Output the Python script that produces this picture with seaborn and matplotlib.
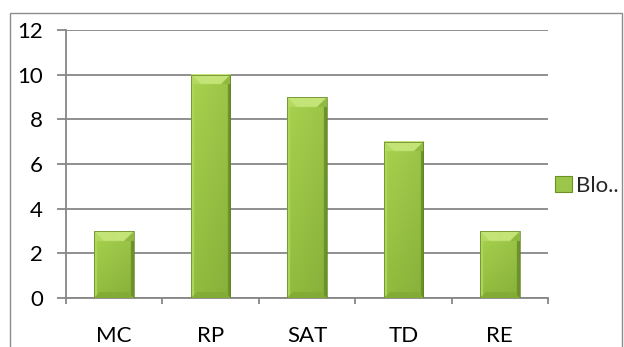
import numpy as np
import pandas as pd
import matplotlib
matplotlib.use("Agg")
import matplotlib.pyplot as plt
import seaborn as sns
from matplotlib.patches import Rectangle, Patch
from matplotlib.colors import to_rgb

# Chart data
categories = ["MC", "RP", "SAT", "TD", "RE"]
values = [3, 10, 9, 7, 3]
series_name = "Blo.."
y_ticks = [0, 2, 4, 6, 8, 10, 12]

W_PX, H_PX, DPI = 624, 347, 100
GRID = "#878787"
FONT_SIZE = 16

sns.set_theme(style="white")
plt.rcParams["font.family"] = ["Lato", "DejaVu Sans"]

fig = plt.figure(figsize=(W_PX / DPI, H_PX / DPI), dpi=DPI)
ax = fig.add_axes([66 / W_PX, 49 / H_PX, (548 - 66) / W_PX, (298 - 30) / H_PX])

df = pd.DataFrame({"category": categories, "value": values})
sns.barplot(data=df, x="category", y="value", color="#9cc64a", saturation=1,
            width=0.41, ax=ax, zorder=3)

ax.set_xlim(-0.5, len(categories) - 0.5)
ax.set_ylim(y_ticks[0], y_ticks[-1])
ax.set_yticks(y_ticks)
ax.set_xlabel("")
ax.set_ylabel("")

# horizontal gridlines + axis styling
ax.yaxis.grid(True, color=GRID, lw=1.3, zorder=0)
ax.xaxis.grid(False)
for s in ["top", "right"]:
    ax.spines[s].set_visible(False)
for s in ["left", "bottom"]:
    ax.spines[s].set_color(GRID)
    ax.spines[s].set_linewidth(1.3)
ax.tick_params(axis="y", direction="out", length=6.5, width=1.3, color=GRID,
               pad=10, labelsize=FONT_SIZE, labelcolor="black", left=True)
ax.set_xticks(np.arange(-0.5, len(categories)), minor=True)
ax.tick_params(axis="x", which="minor", direction="out", length=4, width=1.3,
               color=GRID, bottom=True)
ax.tick_params(axis="x", which="major", length=0, pad=20,
               labelsize=FONT_SIZE, labelcolor="black")


def shaded_bar(patch):
    """Paint a bevelled, gradient-filled image over a bar patch."""
    x0, y0 = patch.get_x(), patch.get_y()
    w, h = patch.get_width(), patch.get_height()
    p0 = ax.transData.transform((x0, y0))
    p1 = ax.transData.transform((x0 + w, y0 + h))
    s = 4
    wp = max(int(round((p1[0] - p0[0]) * s)), 1)
    hp = max(int(round((p1[1] - p0[1]) * s)), 1)
    xs = (np.arange(wp) + 0.5) / s
    ys = (np.arange(hp) + 0.5) / s  # measured from the top
    X, Y = np.meshgrid(xs, ys)
    wpx, hpx = wp / s, hp / s
    dl, dr = X, wpx - X
    dt, db = Y, hpx - Y
    v = Y / hpx
    u = X / wpx

    top_c = np.array(to_rgb("#a3cd4c"))
    bot_c = np.array(to_rgb("#8cb73c"))
    img = top_c[None, None, :] * (1 - v[..., None]) + bot_c[None, None, :] * v[..., None]
    img = img * (1.03 - 0.07 * u[..., None])

    bt, bs, bb = 10.0, 3.0, 6.0
    side = np.minimum(dl, dr)
    top_m = (dt < bt) & (dt <= side)
    left_m = (dl < bs) & (dl < dt) & (dl <= dr) & (dl < db)
    right_m = (dr < bs) & (dr < dt) & (dr < dl) & (dr < db)
    bot_m = (db < bb) & (db <= side) & ~top_m
    # left/right corner facets of the top bevel
    tl_m = (dt < bt) & (dl < bt) & (dl < dt)
    tr_m = (dt < bt) & (dr < bt) & (dr < dt)
    img[bot_m] = to_rgb("#82ac36")
    img[top_m] = to_rgb("#c4e477")
    img[tl_m] = to_rgb("#b4da60")
    img[tr_m] = to_rgb("#90ba40")
    img[left_m & ~tl_m] = to_rgb("#aed65a")
    img[right_m & ~tr_m] = to_rgb("#6c9027")
    img = np.clip(img, 0, 1)
    ax.imshow(img, extent=[x0, x0 + w, y0, y0 + h], aspect="auto",
              interpolation="bilinear", zorder=4)
    ax.add_patch(Rectangle((x0, y0), w, h, fill=False, ec="#5f7f24",
                           lw=0.5, zorder=5))
    patch.set_visible(False)


for p in list(ax.patches):
    shaded_bar(p)
ax.set_xlim(-0.5, len(categories) - 0.5)
ax.set_ylim(y_ticks[0], y_ticks[-1])

# legend
handle = Patch(facecolor="#9cc64a", edgecolor="#6c9027", lw=0.8)
fig.legend([handle], [series_name], loc="center left",
           bbox_to_anchor=(555 / W_PX, (H_PX - 186) / H_PX), frameon=False,
           fontsize=FONT_SIZE, handlelength=0.75, handleheight=0.75,
           handletextpad=0.2, borderaxespad=0, borderpad=0)

# outer chart frame
fig.add_artist(Rectangle((10 / W_PX, -0.05), (622 - 10) / W_PX,
                         1.05 - 12.5 / H_PX, transform=fig.transFigure,
                         fill=False, ec="#8c8c8c", lw=1.0))

fig.savefig("out.png", dpi=DPI)
